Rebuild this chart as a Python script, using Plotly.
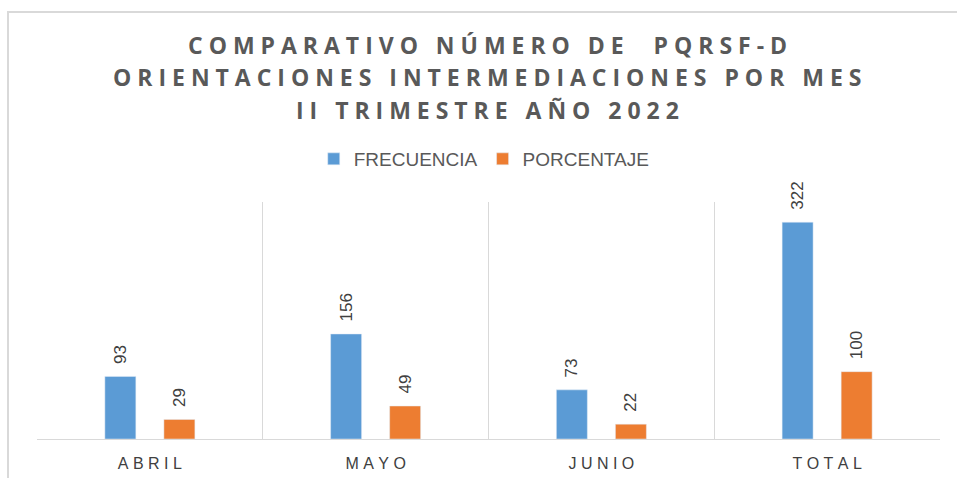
import plotly.graph_objects as go

categories = ["ABRIL", "MAYO", "JUNIO", "TOTAL"]
frecuencia = [93, 156, 73, 322]
porcentaje = [29, 49, 22, 100]
series_names = ["FRECUENCIA", "PORCENTAJE"]
title_lines = ["COMPARATIVO NÚMERO DE  PQRSF-D",
               "ORIENTACIONES INTERMEDIACIONES POR MES",
               "II TRIMESTRE AÑO 2022"]

W, H = 957, 478
L, R, T, B = 37, 17, 202, 39
pw, ph = W - L - R, H - T - B

NB = "\u00a0"

def spaced(s, sep=NB):
    return sep.join(list(s))

def px_x(x):
    return (x - L) / pw

def px_y(y):
    return (H - B - y) / ph

label_font = dict(family="Liberation Sans, Arial", size=17, color="#404040")

fig = go.Figure()
for name, vals, col in [(series_names[0], frecuencia, "#5B9BD5"),
                        (series_names[1], porcentaje, "#ED7D31")]:
    fig.add_trace(go.Bar(
        x=categories, y=vals, name=name, marker_color=col,
        text=[NB * 2 + str(v) for v in vals], textposition="outside",
        textangle=-90, textfont=label_font, cliponaxis=False,
        constraintext="none",
    ))

fig.update_layout(
    width=W, height=H,
    margin=dict(l=L, r=R, t=T, b=B, autoexpand=False),
    paper_bgcolor="white", plot_bgcolor="white",
    barmode="group", bargap=0.477, bargroupgap=0.475,
    legend=dict(
        orientation="h", x=0.506, xref="container", xanchor="center",
        y=1 - 159 / H, yref="container", yanchor="middle",
        font=dict(family="Liberation Sans, Arial", size=19, color="#595959"),
        traceorder="normal",
    ),
    xaxis=dict(
        tickmode="array", tickvals=categories,
        ticktext=[spaced(c) for c in categories],
        tickfont=dict(family="Liberation Sans, Arial", size=16, color="#404040"),
        showgrid=True, gridcolor="#d9d9d9", gridwidth=1,
        tickson="boundaries", ticks="", ticklen=0,
        ticklabelstandoff=10, automargin=False,
        showline=True, linecolor="#d9d9d9", linewidth=1,
        mirror=False,
    ),
    yaxis=dict(range=[0, 352], visible=False, showgrid=False, zeroline=False,
               automargin=False),
    showlegend=True,
)

# title lines
for line, yc in zip(title_lines, [45, 77, 110]):
    fig.add_annotation(
        text="<b>" + spaced(line) + "</b>", showarrow=False,
        xref="paper", yref="paper", x=px_x(487), y=px_y(yc),
        xanchor="center", yanchor="middle",
        font=dict(family="Open Sans", size=23, color="#595959"),
    )

# outer frame lines (top and left) of the source chart
border = dict(color="#d9d9d9", width=2)
fig.add_shape(type="line", xref="paper", yref="paper",
              x0=px_x(7), x1=px_x(W),
              y0=px_y(12), y1=px_y(12), line=border)
fig.add_shape(type="line", xref="paper", yref="paper",
              x0=px_x(8), x1=px_x(8),
              y0=px_y(12), y1=px_y(H), line=border)

fig.write_html("out.html")
